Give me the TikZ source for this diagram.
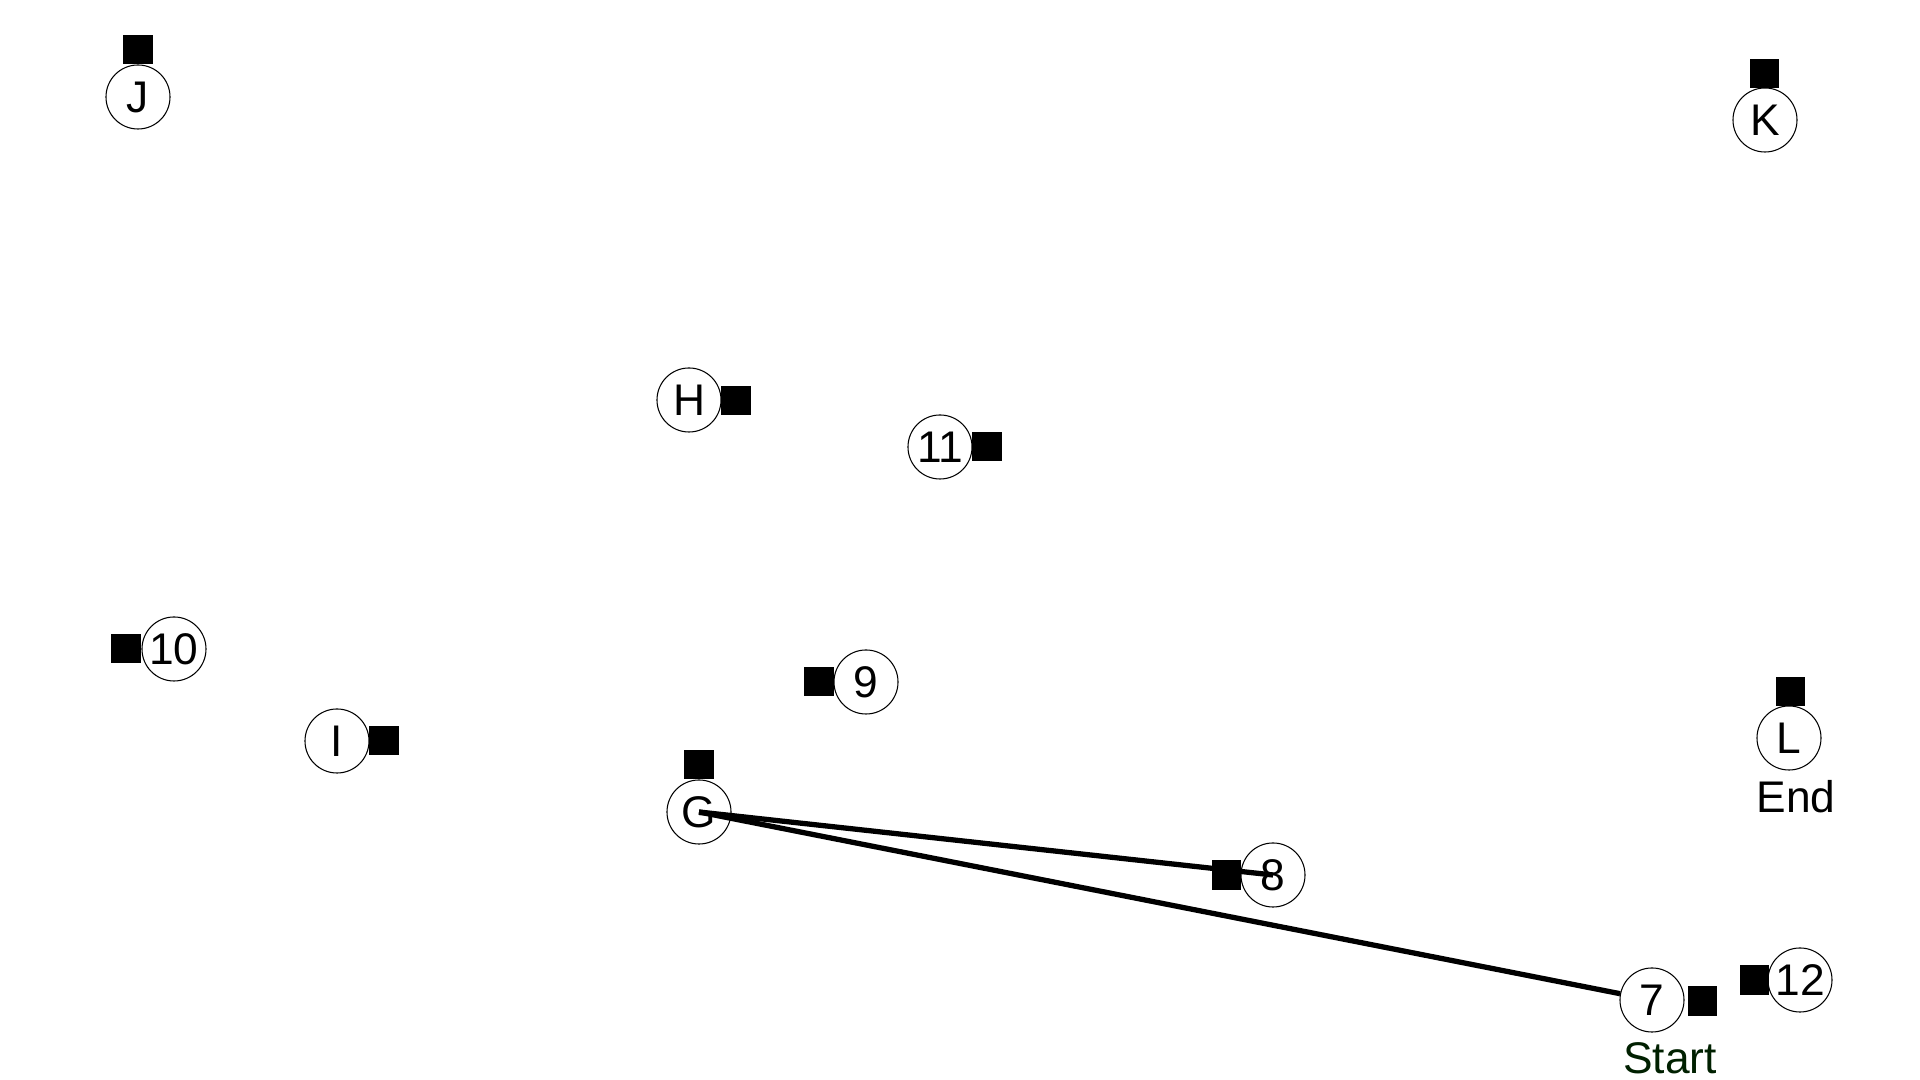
\documentclass[tikz,border=0pt]{standalone}
\usepackage{fontspec}
\setmainfont{Liberation Sans}
\usepackage{tikz}

\definecolor{startgreen}{RGB}{0,32,0}

\tikzset{
    stop/.style={draw,circle,line width=0.3pt,minimum size=0.64cm,inner sep=0pt,font=\fontsize{12.6}{14}\selectfont},
    blk/.style={fill=black,minimum size=0.29cm,inner sep=0pt},
    tag/.style={font=\fontsize{12.6}{14}\selectfont},
    route/.style={line width=1.5pt}
}

\begin{document}
\begin{tikzpicture}[x=0.01cm,y=-0.01cm]
    \useasboundingbox (0,0) rectangle (1920,1080);

    % Stops
    \node[stop] (J) at (138,97) {J};
    \node[blk] (sJ) at (138,50) {};
    \node[stop] (K) at (1765,120) {K};
    \node[blk] (sK) at (1764,74) {};
    \node[stop] (H) at (689,400) {H};
    \node[blk] (sH) at (736,401) {};
    \node[stop] (n11) at (940,447) {11};
    \node[blk] (s11) at (987,447) {};
    \node[stop] (n10) at (174,649) {10};
    \node[blk] (s10) at (126,649) {};
    \node[stop] (n9) at (866,682) {9};
    \node[blk] (s9) at (819,682) {};
    \node[stop] (I) at (337,741) {I};
    \node[blk] (sI) at (384,741) {};
    \node[stop] (G) at (699,812) {G};
    \node[blk] (sG) at (699,765) {};
    \node[stop] (L) at (1789,738) {L};
    \node[blk] (sL) at (1790,692) {};
    \node[stop] (n8) at (1273,875) {8};
    \node[blk] (s8) at (1226,875) {};
    \node[stop] (n7) at (1652,1000) {7};
    \node[blk] (s7) at (1702,1001) {};
    \node[stop] (n12) at (1800,980) {12};
    \node[blk] (s12) at (1754,980) {};

    % Start and end labels
    \node[tag] (end) at (1796,797) {End};
    \node[tag,text=startgreen] (start) at (1670,1058) {Start};

    % Route
    \draw[route] (G.center) -- (n8.center);
    \draw[route] (G.center) -- (n7);
\end{tikzpicture}
\end{document}
